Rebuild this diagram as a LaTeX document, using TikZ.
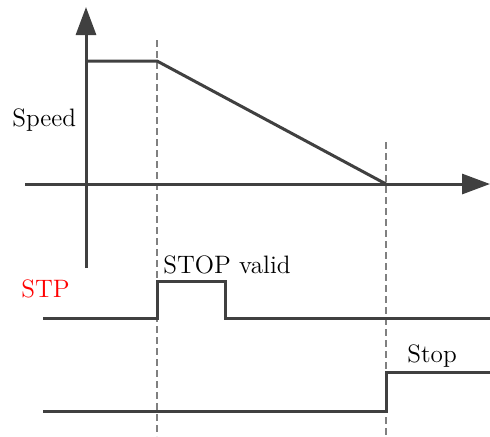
\documentclass[tikz,border=0pt]{standalone}
\usetikzlibrary{arrows.meta}
\begin{document}
\begin{tikzpicture}[x=0.5pt, y=-0.5pt, line cap=butt, line join=miter]
  \definecolor{sigline}{RGB}{64,64,64}
  \definecolor{stpred}{RGB}{255,0,0}
  \tikzset{
    signal/.style={sigline, line width=1.5pt},
    axis/.style={signal, -{Triangle[length=14pt,width=10pt]}},
    marker/.style={gray, line width=0.6pt, dash pattern=on 3.5pt off 2pt},
    label/.style={inner sep=0pt, anchor=base west, font=\fontsize{12.6}{15}\selectfont}
  }
  \useasboundingbox (0,0) rectangle (490,436);
  % time marks
  \coordinate (t1) at (157,0);
  \coordinate (t2) at (386,0);
  \draw[marker] (t1 |- 0,40) -- (t1 |- 0,436);
  \draw[marker] (t2 |- 0,142) -- (t2 |- 0,436);
  % speed axes and curve
  \draw[axis] (86,268) -- (86,7);
  \draw[axis] (25,184) -- (490,184);
  \draw[signal] (86,61) -- (t1 |- 0,61) -- (t2 |- 0,184);
  % STP pulse
  \draw[signal] (43,318) -- (t1 |- 0,318) -- (t1 |- 0,281) -- (225,281) -- (225,318) -- (490,318);
  % stop output
  \draw[signal] (43,411) -- (t2 |- 0,411) -- (t2 |- 0,372) -- (490,372);
  \node[label] (speed) at (12,126) {Speed};
  \node[label, stpred] (stp) at (21,297) {STP};
  \node[label] (valid) at (163,273) {STOP valid};
  \node[label] (stop) at (407,362) {Stop};
\end{tikzpicture}
\end{document}
